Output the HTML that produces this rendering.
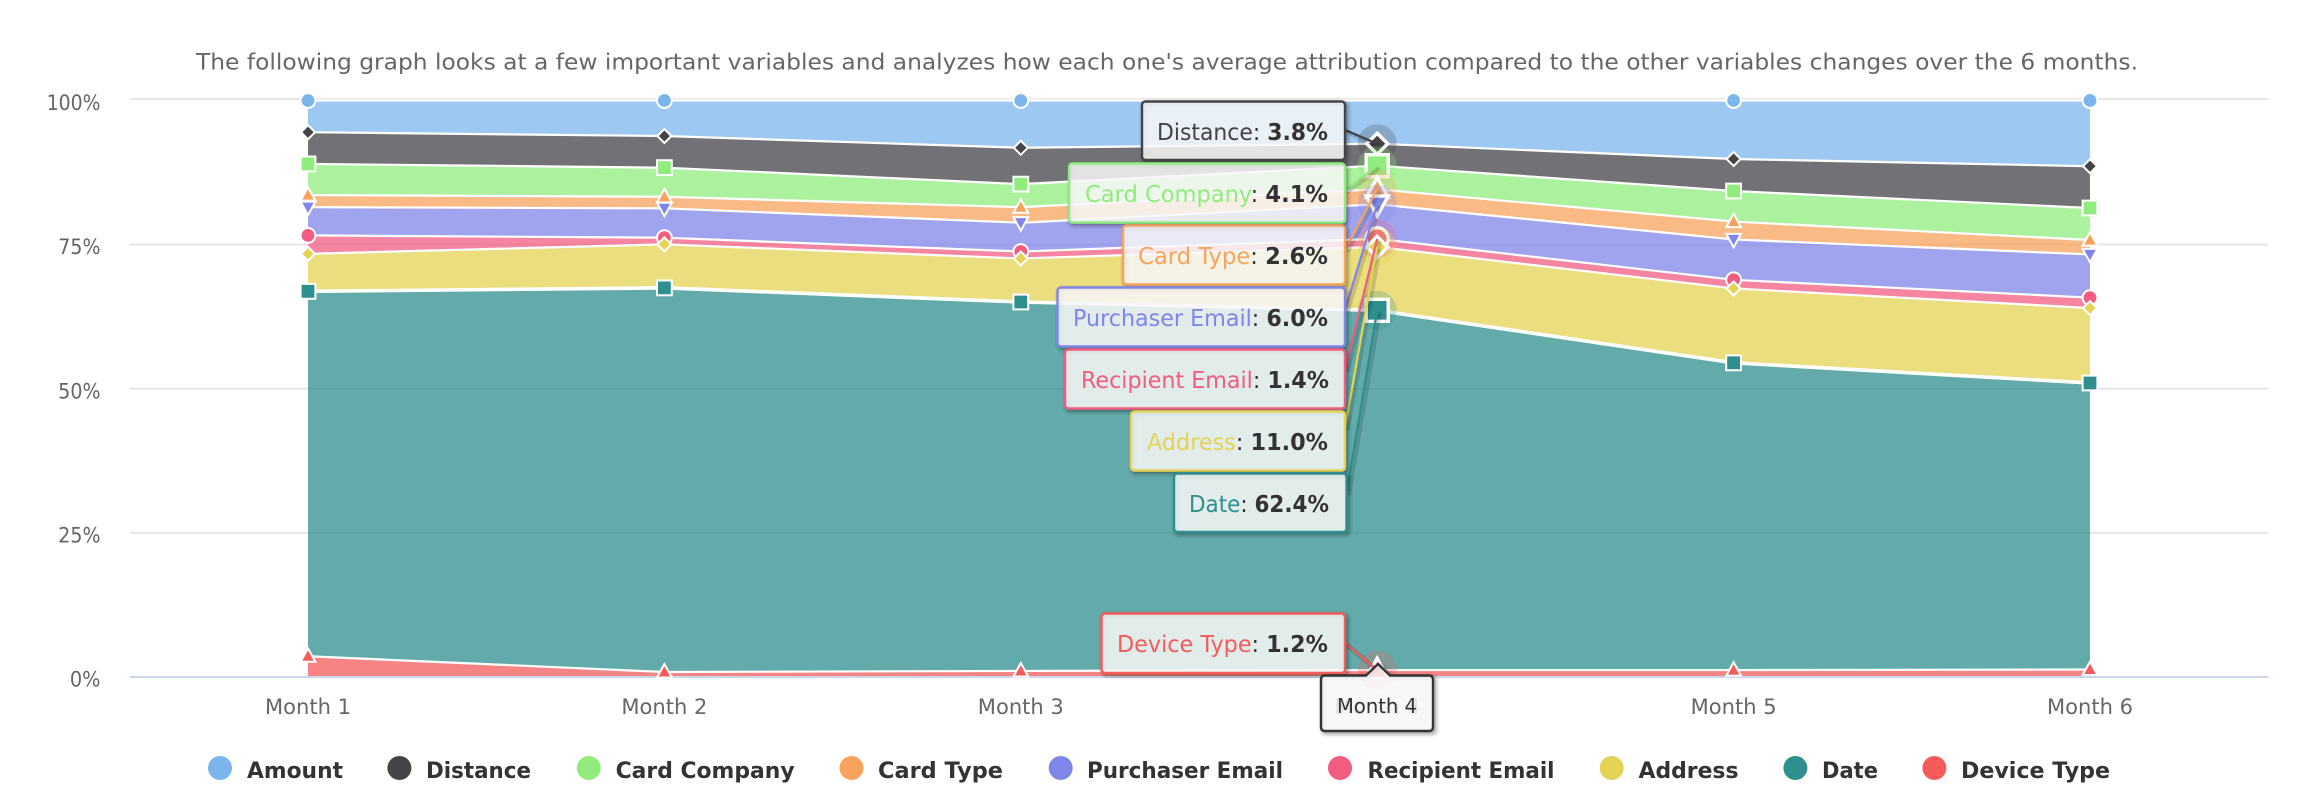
<!DOCTYPE html>
<html lang="en">
<head>
<meta charset="utf-8">
<title>Average attribution over 6 months</title>
<style>
html,body{margin:0;padding:0;background:#fff;width:2306px;height:796px;overflow:hidden}
svg{display:block}
text{font-family:"DejaVu Sans","Liberation Sans",sans-serif}
.lbl{fill:#666;font-size:21.5px}
.leg{fill:#333;font-size:22.5px;font-weight:bold}
.tip{font-size:23px;fill:#333}
.tip .v{font-weight:bold}
.box{stroke-width:2.4;fill:rgba(247,247,247,.85)}
</style>
</head>
<body>
<svg id="chart" xmlns="http://www.w3.org/2000/svg" width="2306" height="796" viewBox="0 0 2306 796">
  <rect width="2306" height="796" fill="#ffffff"/>
  <text x="196" y="69.500" font-size="22.500" fill="#666" textLength="1942" lengthAdjust="spacingAndGlyphs">The following graph looks at a few important variables and analyzes how each one's average attribution compared to the other variables changes over the 6 months.</text>
  <g id="grid"></g>
  <g id="ylabels"></g>
  <g id="xlabels"></g>
  <g id="areas"></g>
  <line x1="130" y1="677" x2="2268" y2="677" stroke="#ccd6eb" stroke-width="2"/>
  <g id="markers"></g>
  <g id="connectors"></g>

  <g>
    <g><circle cx="220" cy="768" r="12" fill="#7cb5ec"/><text class="leg" x="247" y="778" textLength="96" lengthAdjust="spacingAndGlyphs">Amount</text></g>
    <g><circle cx="399.4" cy="768" r="12" fill="#434348"/><text class="leg" x="426" y="778" textLength="105" lengthAdjust="spacingAndGlyphs">Distance</text></g>
    <g><circle cx="588.8" cy="768" r="12" fill="#90ed7d"/><text class="leg" x="615.6" y="778" textLength="179" lengthAdjust="spacingAndGlyphs">Card Company</text></g>
    <g><circle cx="851.5" cy="768" r="12" fill="#f7a35c"/><text class="leg" x="878" y="778" textLength="125" lengthAdjust="spacingAndGlyphs">Card Type</text></g>
    <g><circle cx="1060.7" cy="768" r="12" fill="#8085e9"/><text class="leg" x="1087" y="778" textLength="196" lengthAdjust="spacingAndGlyphs">Purchaser Email</text></g>
    <g><circle cx="1340" cy="768" r="12" fill="#f15c80"/><text class="leg" x="1367.5" y="778" textLength="187" lengthAdjust="spacingAndGlyphs">Recipient Email</text></g>
    <g><circle cx="1611.7" cy="768" r="12" fill="#e4d354"/><text class="leg" x="1638.5" y="778" textLength="100" lengthAdjust="spacingAndGlyphs">Address</text></g>
    <g><circle cx="1795.4" cy="768" r="12" fill="#2f8f8e"/><text class="leg" x="1822" y="778" textLength="56" lengthAdjust="spacingAndGlyphs">Date</text></g>
    <g><circle cx="1934.4" cy="768" r="12" fill="#f45b5b"/><text class="leg" x="1961" y="778" textLength="149" lengthAdjust="spacingAndGlyphs">Device Type</text></g>
  </g>

  <g>
    <rect class="box" data-anchor="130" x="1142" y="101.5" width="203" height="58.5" rx="3.5" stroke="#434348"/>
    <text class="tip" x="1157" y="140" textLength="171" lengthAdjust="spacingAndGlyphs"><tspan fill="#434348">Distance</tspan>: <tspan class="v" data-series="Distance">3.8%</tspan></text>
  </g>
  <g>
    <rect class="box" data-anchor="190" x="1069" y="163.5" width="276" height="59" rx="3.5" stroke="#90ed7d"/>
    <text class="tip" x="1085" y="202" textLength="243" lengthAdjust="spacingAndGlyphs"><tspan fill="#90ed7d">Card Company</tspan>: <tspan class="v" data-series="Card Company">4.1%</tspan></text>
  </g>
  <g>
    <rect class="box" data-anchor="250" x="1123" y="225.5" width="222" height="59" rx="3.5" stroke="#f7a35c"/>
    <text class="tip" x="1138" y="264" textLength="190" lengthAdjust="spacingAndGlyphs"><tspan fill="#f7a35c">Card Type</tspan>: <tspan class="v" data-series="Card Type">2.6%</tspan></text>
  </g>
  <g>
    <rect class="box" data-anchor="310" x="1057.5" y="287.5" width="287.5" height="59" rx="3.5" stroke="#8085e9"/>
    <text class="tip" x="1073" y="326" textLength="255" lengthAdjust="spacingAndGlyphs"><tspan fill="#8085e9">Purchaser Email</tspan>: <tspan class="v" data-series="Purchaser Email">6.0%</tspan></text>
  </g>
  <g>
    <rect class="box" data-anchor="370" x="1065" y="349.5" width="280" height="59" rx="3.5" stroke="#f15c80"/>
    <text class="tip" x="1081" y="388" textLength="248" lengthAdjust="spacingAndGlyphs"><tspan fill="#f15c80">Recipient Email</tspan>: <tspan class="v" data-series="Recipient Email">1.4%</tspan></text>
  </g>
  <g>
    <rect class="box" data-anchor="428" x="1131" y="411.5" width="214" height="59" rx="3.5" stroke="#e4d354"/>
    <text class="tip" x="1147" y="450" textLength="181" lengthAdjust="spacingAndGlyphs"><tspan fill="#e4d354">Address</tspan>: <tspan class="v" data-series="Address">11.0%</tspan></text>
  </g>
  <g>
    <rect class="box" data-anchor="493" x="1174" y="473.5" width="172.5" height="58.5" rx="3.5" stroke="#2f8f8e"/>
    <text class="tip" x="1189" y="512" textLength="140" lengthAdjust="spacingAndGlyphs"><tspan fill="#2f8f8e">Date</tspan>: <tspan class="v" data-series="Date">62.4%</tspan></text>
  </g>
  <g>
    <rect class="box" data-anchor="643" x="1101.5" y="613.5" width="243.5" height="59.5" rx="3.5" stroke="#f45b5b"/>
    <text class="tip" x="1117" y="652" textLength="211" lengthAdjust="spacingAndGlyphs"><tspan fill="#f45b5b">Device Type</tspan>: <tspan class="v" data-series="Device Type">1.2%</tspan></text>
  </g>
  <g>
    <path class="box" d="M1325 675.500 H1366 L1378 664 L1390 675.500 H1429 Q1433 675.500 1433 679.500 V727 Q1433 731 1429 731 H1325 Q1321 731 1321 727 V679.500 Q1321 675.500 1325 675.500 Z" stroke="#333"/>
    <text x="1337" y="713" font-size="20" fill="#333" textLength="80" lengthAdjust="spacingAndGlyphs">Month 4</text>
  </g>
</svg>
<script>
const categories = ['Month 1', 'Month 2', 'Month 3', 'Month 4', 'Month 5', 'Month 6'];
const yTicks = [0, 25, 50, 75, 100];
const seriesNames = ['Amount', 'Distance', 'Card Company', 'Card Type', 'Purchaser Email', 'Recipient Email', 'Address', 'Date', 'Device Type'];
const amountValues = [5.5, 6.16, 8.2, 7.5, 10.15, 11.4];
const distanceValues = [5.5, 5.49, 6.3, 3.8, 5.55, 7.25];
const cardCompanyValues = [5.4, 5.05, 4.0, 4.1, 5.3, 5.55];
const cardTypeValues = [2.1, 2.0, 2.7, 2.6, 3.1, 2.5];
const purchaserEmailValues = [4.9, 5.1, 5.0, 6.0, 7.0, 7.5];
const recipientEmailValues = [3.2, 1.15, 1.2, 1.4, 1.5, 1.8];
const addressValues = [6.5, 7.55, 7.55, 11.0, 12.9, 13.0];
const dateValues = [63.3, 66.63, 64.0, 62.4, 53.3, 49.7];
const deviceTypeValues = [3.6, 0.87, 1.05, 1.2, 1.2, 1.3];
const hoveredCategory = 3;

const allValues = [amountValues, distanceValues, cardCompanyValues, cardTypeValues, purchaserEmailValues, recipientEmailValues, addressValues, dateValues, deviceTypeValues];
const seriesColors = ['#7cb5ec', '#434348', '#90ed7d', '#f7a35c', '#8085e9', '#f15c80', '#e4d354', '#2f8f8e', '#f45b5b'];
const seriesSymbols = ['circle', 'diamond', 'square', 'up', 'down', 'circle', 'diamond', 'square', 'up'];

const NS = 'http://www.w3.org/2000/svg';
function xAxis(i) { return 308 + 356.4 * i; }
function yAxis(v) { return 677 - 5.765 * v; }
function slug(s) { return s.toLowerCase().replace(/\s+/g, '-'); }
function make(tag, attrs, parent) {
  const el = document.createElementNS(NS, tag);
  for (const k in attrs) el.setAttribute(k, attrs[k]);
  parent.appendChild(el);
  return el;
}

/* axes */
const gridG = document.getElementById('grid');
const ylabG = document.getElementById('ylabels');
const xlabG = document.getElementById('xlabels');
yTicks.forEach(function (t) {
  const gy = t === 100 ? yAxis(t) - 1.5 : yAxis(t);
  if (t !== 0) {
    const line = make('line', { x1: 130, x2: 2268, y1: gy, y2: gy, stroke: '#e6e6e6', 'stroke-width': 2 }, gridG);
    
    
  }
  const text = t + '%';
  const lab = make('text', {
    x: 100.5, y: yAxis(t) + 9.5, 'text-anchor': 'end', class: 'lbl',
    textLength: (text.length - 1) * 11.6 + 19, lengthAdjust: 'spacingAndGlyphs'
  }, ylabG);
  
  
  lab.textContent = text;
});
categories.forEach(function (c, i) {
  const lab = make('text', {
    x: xAxis(i), y: 714, 'text-anchor': 'middle', class: 'lbl',
    textLength: 86, lengthAdjust: 'spacingAndGlyphs'
  }, xlabG);
  
  
  lab.textContent = c;
});

/* percent stacking: series[0] sits on top, the last series on the axis */
const totals = categories.map(function (_, i) {
  return allValues.reduce(function (sum, s) { return sum + s[i]; }, 0);
});
const pct = allValues.map(function (s) {
  return s.map(function (v, i) { return v / totals[i] * 100; });
});
const tops = [];
const bottoms = [];
for (let s = allValues.length - 1; s >= 0; s--) {
  const below = s === allValues.length - 1 ? categories.map(function () { return 0; }) : tops[s + 1];
  bottoms[s] = below;
  tops[s] = below.map(function (b, i) { return b + pct[s][i]; });
}

/* marker shapes */
function symbolPath(kind, cx, cy, r) {
  if (kind === 'diamond') {
    return 'M' + cx + ' ' + (cy - r) + 'L' + (cx + r) + ' ' + cy + 'L' + cx + ' ' + (cy + r) + 'L' + (cx - r) + ' ' + cy + 'Z';
  }
  if (kind === 'square') {
    return 'M' + (cx - r) + ' ' + (cy - r) + 'H' + (cx + r) + 'V' + (cy + r) + 'H' + (cx - r) + 'Z';
  }
  if (kind === 'up') {
    return 'M' + cx + ' ' + (cy - r * 1.07) + 'L' + (cx + r) + ' ' + (cy + r * 0.75) + 'H' + (cx - r) + 'Z';
  }
  if (kind === 'down') {
    return 'M' + (cx - r) + ' ' + (cy - r * 0.75) + 'H' + (cx + r) + 'L' + cx + ' ' + (cy + r * 1.07) + 'Z';
  }
  return 'M' + (cx - r) + ' ' + cy + 'A' + r + ' ' + r + ' 0 1 0 ' + (cx + r) + ' ' + cy + 'A' + r + ' ' + r + ' 0 1 0 ' + (cx - r) + ' ' + cy + 'Z';
}

/* areas and their white top lines */
const areasG = document.getElementById('areas');
const markersG = document.getElementById('markers');
seriesNames.forEach(function (name, s) {
  let top = '';
  tops[s].forEach(function (v, i) {
    top += (i ? 'L' : 'M') + xAxis(i) + ' ' + yAxis(v);
  });
  let bottom = '';
  for (let i = categories.length - 1; i >= 0; i--) {
    bottom += 'L' + xAxis(i) + ' ' + yAxis(bottoms[s][i]);
  }
  const area = make('path', { d: top + bottom + 'Z', fill: seriesColors[s], 'fill-opacity': 0.75 }, areasG);
  
  
  const line = make('path', { d: top, fill: 'none', stroke: '#ffffff', 'stroke-width': name === 'Date' ? 3.6 : 2.2 }, areasG);
  
  
});

/* markers; the Amount series has no tooltip and no marker at the hovered month */
seriesNames.forEach(function (name, s) {
  categories.forEach(function (_, i) {
    const hovered = i === hoveredCategory;
    if (hovered && s === 0) return;
    const cx = xAxis(i);
    const cy = yAxis(tops[s][i]);
    if (hovered) {
      const halo = make('circle', { cx: cx, cy: cy, r: 19.5, fill: seriesColors[s], 'fill-opacity': 0.25 }, markersG);
      
      
    }
    const kind = seriesSymbols[s];
    const base = kind === 'diamond' ? 7 : 7.4;
    const r = hovered ? (kind === 'diamond' ? 10.5 : 11) : base;
    const mark = make('path', {
      d: symbolPath(kind, cx, cy, r),
      fill: seriesColors[s],
      stroke: '#ffffff',
      'stroke-width': hovered ? 3.4 : 2
    }, markersG);
    
    
  });
});

/* stroke-only shadow copies, so translucent tooltip fills stay clean */
function addShadow(el, strokeWidths, opacities) {
  strokeWidths.forEach(function (w, n) {
    const copy = el.cloneNode(false);
    copy.removeAttribute('class');
    copy.removeAttribute('data-anchor');
    copy.setAttribute('fill', 'none');
    copy.setAttribute('stroke', '#000000');
    copy.setAttribute('stroke-width', w);
    copy.setAttribute('stroke-opacity', opacities[n]);
    copy.setAttribute('transform', 'translate(2,2)');
    
    
    el.parentNode.insertBefore(copy, el);
  });
}

/* connectors from tooltip boxes to the hovered points */
const connG = document.getElementById('connectors');
const boxes = Array.from(document.querySelectorAll('.box'));
boxes.forEach(function (box) {
  const anchor = box.getAttribute('data-anchor');
  if (anchor !== null) {
    const s = boxes.indexOf(box) + 1;
    const ex = +box.getAttribute('x') + +box.getAttribute('width');
    const line = make('line', {
      x1: ex, y1: +anchor, x2: xAxis(hoveredCategory), y2: yAxis(tops[s][hoveredCategory]),
      stroke: seriesColors[s], 'stroke-width': 2.2
    }, connG);
    
    
    addShadow(line, [5], [0.14]);
  }
  addShadow(box, [9, 5.4, 1.8], [0.05, 0.1, 0.15]);
});

/* printed tooltip values */
document.querySelectorAll('.v').forEach(function (el) {
  const s = seriesNames.indexOf(el.getAttribute('data-series'));
  el.textContent = pct[s][hoveredCategory].toFixed(1) + '%';
});
</script>
</body>
</html>
